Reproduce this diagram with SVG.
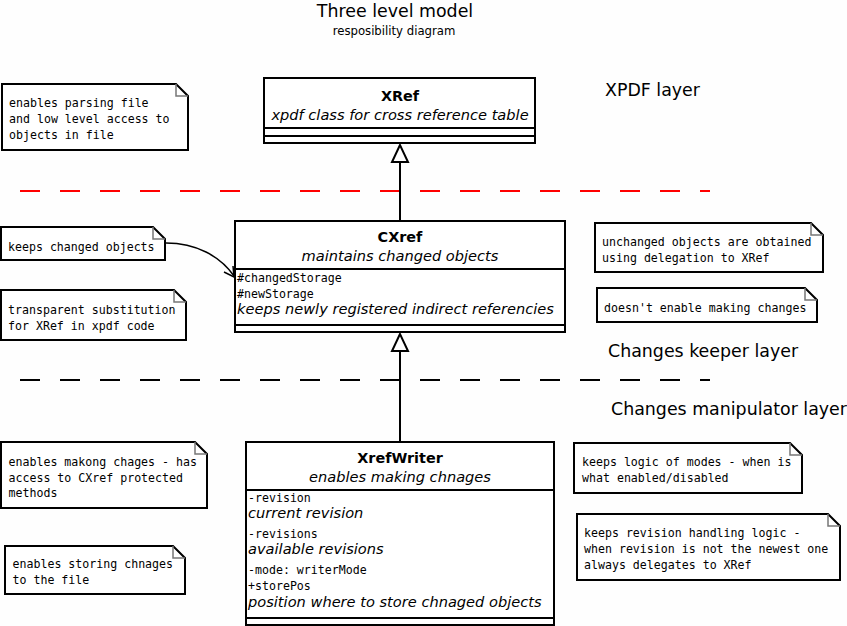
<svg xmlns="http://www.w3.org/2000/svg" width="847" height="626" viewBox="0 0 847 626">
<style>
.bg{fill:#fefefe}
.box{fill:#fff;stroke:#000;stroke-width:2}
.sep{stroke:#000;stroke-width:2;fill:none}
.note{fill:#fff;stroke:#000;stroke-width:2}
.fold{fill:none;stroke:#777;stroke-width:1.5}
.mono{font-family:"DejaVu Sans Mono","Liberation Mono",monospace;font-size:11.6px;fill:#000}
.name{font-family:"DejaVu Sans","Liberation Sans",sans-serif;font-size:14.4px;font-weight:bold;text-anchor:middle;fill:#000}
.ital{font-family:"DejaVu Sans","Liberation Sans",sans-serif;font-size:14.6px;font-style:italic;fill:#000}
.layer{font-family:"DejaVu Sans","Liberation Sans",sans-serif;font-size:17.4px;fill:#000}
.edge{fill:none;stroke:#000;stroke-width:2}
</style>
<rect class="bg" x="0" y="0" width="847" height="626"/>
<text x="395" y="17" class="layer" text-anchor="middle">Three level model</text>
<text x="394" y="35" font-family="DejaVu Sans, sans-serif" font-size="11.7" text-anchor="middle">resposibility diagram</text>

<text x="605" y="96" class="layer">XPDF layer</text>
<text x="608" y="357" class="layer">Changes keeper layer</text>
<text x="611" y="415" class="layer">Changes manipulator layer</text>

<g id="dividers">
<line x1="20" y1="191" x2="710" y2="191" stroke="#f00" stroke-width="2" stroke-dasharray="20 20"/>
<line x1="20" y1="380" x2="710" y2="380" stroke="#000" stroke-width="2" stroke-dasharray="20 20"/>
</g>

<g id="connectors">
<line class="edge" x1="400" y1="161" x2="400" y2="221"/>
<polygon points="400,145 392,162 408,162" fill="#fff" stroke="#000" stroke-width="2"/>
<line class="edge" x1="400" y1="350" x2="400" y2="442"/>
<polygon points="400,334 392,351 408,351" fill="#fff" stroke="#000" stroke-width="2"/>
<path d="M166,243 C196,243 220,256 234,276" fill="none" stroke="#000" stroke-width="1.5"/>
<path d="M224,272 L234,277 L233,266" fill="none" stroke="#000" stroke-width="1.5"/>
</g>

<g id="XRef">
<rect class="box" x="264" y="78" width="271" height="65"/>
<line class="sep" x1="264" y1="128" x2="535" y2="128"/>
<line class="sep" x1="264" y1="136" x2="535" y2="136"/>
<text x="400" y="101" class="name">XRef</text>
<text x="400" y="120" class="ital" text-anchor="middle">xpdf class for cross reference table</text>
</g>

<g id="CXref">
<rect class="box" x="235" y="221" width="330" height="111"/>
<line class="sep" x1="235" y1="269" x2="565" y2="269"/>
<line class="sep" x1="235" y1="325" x2="565" y2="325"/>
<text x="400" y="242" class="name">CXref</text>
<text x="400" y="261" class="ital" text-anchor="middle">maintains changed objects</text>
<text x="237" y="282" class="mono">#changedStorage</text>
<text x="237" y="298" class="mono">#newStorage</text>
<text x="237" y="314" class="ital">keeps newly registered indirect referencies</text>
</g>

<g id="XrefWriter">
<rect class="box" x="246" y="442" width="308" height="183"/>
<line class="sep" x1="246" y1="490" x2="554" y2="490"/>
<line class="sep" x1="246" y1="618" x2="554" y2="618"/>
<text x="400" y="463" class="name">XrefWriter</text>
<text x="400" y="482" class="ital" text-anchor="middle">enables making chnages</text>
<text x="248" y="502" class="mono">-revision</text>
<text x="248" y="518" class="ital">current revision</text>
<text x="248" y="538" class="mono">-revisions</text>
<text x="248" y="554" class="ital">available revisions</text>
<text x="248" y="574" class="mono">-mode: writerMode</text>
<text x="248" y="590" class="mono">+storePos</text>
<text x="248" y="607" class="ital">position where to store chnaged objects</text>
</g>

<g id="note1">
<path class="note" d="M2,84 H176 L188,96 V150 H2 Z"/>
<path class="fold" d="M176,84 V96 H188"/>
<text x="9" y="107" class="mono">enables parsing file</text>
<text x="9" y="123" class="mono">and low level access to</text>
<text x="9" y="139" class="mono">objects in file</text>
</g>

<g id="note2">
<path class="note" d="M1,227 H153 L165,239 V260 H1 Z"/>
<path class="fold" d="M153,227 V239 H165"/>
<text x="8" y="251" class="mono">keeps changed objects</text>
</g>

<g id="note3">
<path class="note" d="M1,290 H174 L186,302 V340 H1 Z"/>
<path class="fold" d="M174,290 V302 H186"/>
<text x="8" y="314" class="mono">transparent substitution</text>
<text x="8" y="330" class="mono">for XRef in xpdf code</text>
</g>

<g id="note4">
<path class="note" d="M595,223 H811 L823,235 V272 H595 Z"/>
<path class="fold" d="M811,223 V235 H823"/>
<text x="602" y="246" class="mono">unchanged objects are obtained</text>
<text x="602" y="262" class="mono">using delegation to XRef</text>
</g>

<g id="note5">
<path class="note" d="M597,288 H805 L817,300 V322 H597 Z"/>
<path class="fold" d="M805,288 V300 H817"/>
<text x="604" y="312" class="mono">doesn't enable making changes</text>
</g>

<g id="note6">
<path class="note" d="M1,442 H195 L207,454 V508 H1 Z"/>
<path class="fold" d="M195,442 V454 H207"/>
<text x="8.5" y="466" class="mono">enables makong chages - has</text>
<text x="8.5" y="482" class="mono">access to CXref protected</text>
<text x="8.5" y="497" class="mono">methods</text>
</g>

<g id="note7">
<path class="note" d="M5,546 H173 L185,558 V594 H5 Z"/>
<path class="fold" d="M173,546 V558 H185"/>
<text x="12.5" y="568" class="mono">enables storing chnages</text>
<text x="12.5" y="584" class="mono">to the file</text>
</g>

<g id="note8">
<path class="note" d="M574,443 H790 L802,455 V493 H574 Z"/>
<path class="fold" d="M790,443 V455 H802"/>
<text x="582" y="466" class="mono">keeps logic of modes - when is</text>
<text x="582" y="482" class="mono">what enabled/disabled</text>
</g>

<g id="note9">
<path class="note" d="M577,514 H828 L840,526 V580 H577 Z"/>
<path class="fold" d="M828,514 V526 H840"/>
<text x="584" y="537" class="mono">keeps revision handling logic -</text>
<text x="584" y="553" class="mono">when revision is not the newest one</text>
<text x="584" y="569" class="mono">always delegates to XRef</text>
</g>
</svg>
